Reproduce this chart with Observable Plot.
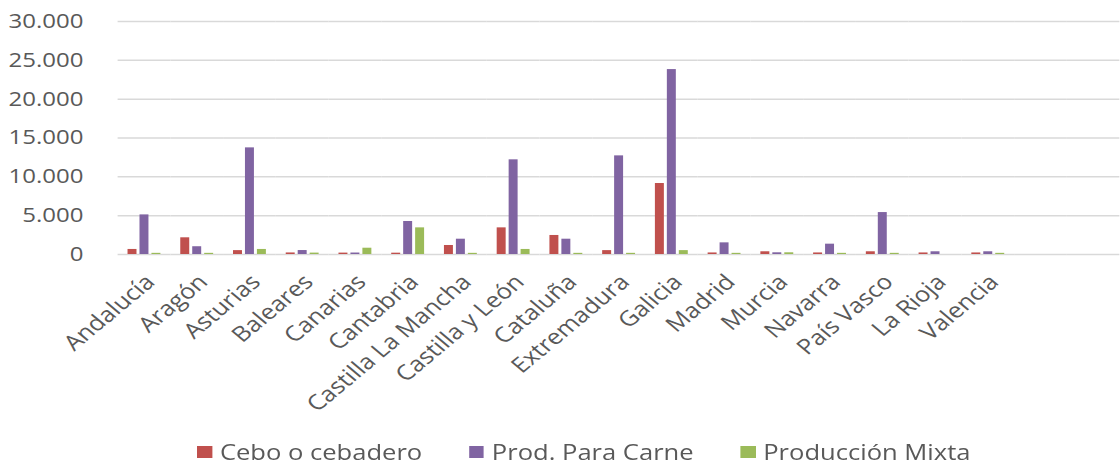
<!DOCTYPE html>
<html>
<head>
<meta charset="utf-8">
<script src="https://cdn.jsdelivr.net/npm/d3@7"></script>
<script src="https://cdn.jsdelivr.net/npm/@observablehq/plot@0.6"></script>
<style>
  html, body { margin: 0; padding: 0; background: #fff; }
  #wrap { width: 933px; transform: scaleX(1.2); transform-origin: 0 0; font-family: "Open Sans", sans-serif; }
  #legend { box-sizing: border-box; height: 30px; padding-top: 2px; display: flex; justify-content: center; align-items: center; gap: 39px; font-size: 21.3px; line-height: 26px; color: #595959; padding-left: 40px; }
  #legend .item { display: flex; align-items: center; gap: 6.5px; }
  #legend .sw { width: 12.5px; height: 12px; display: inline-block; }
</style>
</head>
<body>
<div id="wrap"><div id="chart"></div><div id="legend"></div></div>
<script>
const regions = ["Andalucía","Aragón","Asturias","Baleares","Canarias","Cantabria","Castilla La Mancha","Castilla y León","Cataluña","Extremadura","Galicia","Madrid","Murcia","Navarra","País Vasco","La Rioja","Valencia"];
const series = ["Cebo o cebadero","Prod. Para Carne","Producción Mixta"];
const cebo  = [650, 2150, 500, 200, 180, 170, 1160, 3430, 2450, 500, 9140, 200, 350, 200, 350, 200, 200];
const carne = [5100, 1000, 13730, 510, 190, 4250, 1970, 12190, 1970, 12700, 23810, 1500, 220, 1330, 5400, 350, 350];
const mixta = [150, 150, 650, 180, 810, 3430, 150, 650, 150, 150, 500, 150, 220, 150, 150, 0, 150];
const yTicks = [0, 5000, 10000, 15000, 20000, 25000, 30000];
const colors = ["#C0504D", "#8064A2", "#9BBB59"];

const values = [cebo, carne, mixta];
const rows = series.flatMap((s, i) => regions.map((r, j) => ({region: r, series: s, value: values[i][j]})));
const fxDomain = regions.concat(["_e1", "_e2"]);
const gridRows = fxDomain.flatMap(r => yTicks.map(t => ({region: r, y: t})));
const fmt = d3.formatLocale({decimal: ",", thousands: ".", grouping: [3]}).format(",");

const chart = Plot.plot({
  width: 933, height: 436,
  marginLeft: 98, marginRight: 0, marginTop: 21, marginBottom: 182,
  style: {fontFamily: "Open Sans, sans-serif", fontSize: "21px", color: "#595959", background: "#fff"},
  fx: {domain: fxDomain, padding: 0, round: false, label: null, axis: null},
  x: {domain: series, axis: null, round: false, paddingInner: 0.25, paddingOuter: 0.83},
  y: {domain: [0, 30000], axis: null},
  color: {domain: series, range: colors},
  marks: [
    Plot.ruleY(gridRows, {fx: "region", y: "y", stroke: "#d9d9d9", strokeWidth: 1.5}),
    Plot.barY(rows, {fx: "region", x: "series", y: "value", fill: "series"}),
    Plot.axisY({ticks: yTicks, tickFormat: fmt, tickSize: 0, tickPadding: 29, fontSize: 20, fill: "#595959", label: null}),
    Plot.axisFx({anchor: "bottom", tickRotate: -45, tickSize: 0, tickPadding: 24, dx: 5, fontSize: 21.2, fill: "#595959", label: null,
                 tickFormat: d => regions.includes(d) ? d : ""})
  ]
});
document.getElementById("chart").appendChild(chart);

const legend = document.getElementById("legend");
series.forEach((s, i) => {
  const item = document.createElement("span");
  item.className = "item";
  const sw = document.createElement("span");
  sw.className = "sw";
  sw.style.background = colors[i];
  const t = document.createElement("span");
  t.textContent = s;
  item.appendChild(sw); item.appendChild(t);
  legend.appendChild(item);
});
</script>
</body>
</html>
